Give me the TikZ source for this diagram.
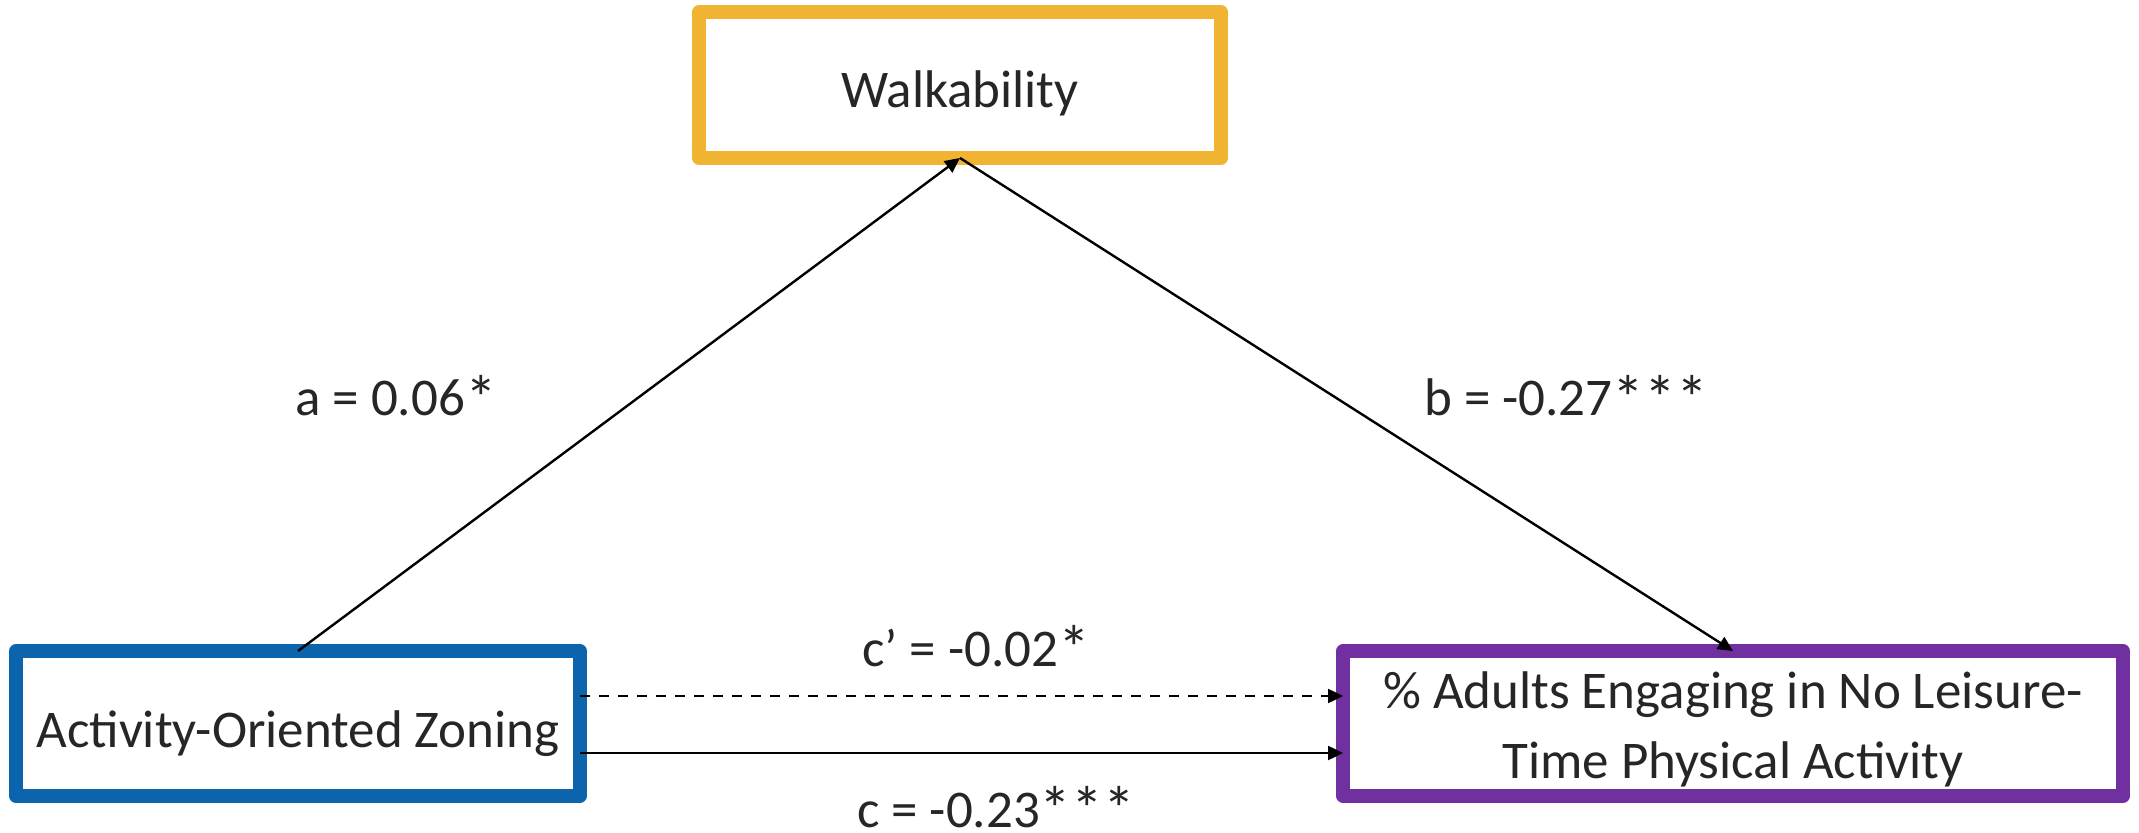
\documentclass[tikz,border=0pt]{standalone}
\usepackage{fontspec}
\usepackage{graphicx}
\setmainfont{Carlito}
\usetikzlibrary{arrows.meta}
\definecolor{walkc}{HTML}{F0B432}
\definecolor{actc}{HTML}{0B64AC}
\definecolor{outc}{HTML}{7030A0}
\definecolor{txtc}{HTML}{262626}
\newcommand{\sigst}{\raisebox{-0.08em}{\scalebox{1.2}{*}}}
\tikzset{
  boxnode/.style={draw, line width=6.75pt, line join=round, inner sep=0pt, outer sep=0pt,
    fill=white, text=txtc, minimum height=72.5pt, font=\fontsize{26.5}{35}\selectfont},
  conn/.style={line width=1.2pt, draw=black, -{Triangle[length=7.5pt,width=7pt]}},
  dashconn/.style={conn, dash pattern=on 5pt off 4.5pt},
  lbl/.style={anchor=base, inner sep=0pt, text=txtc, font=\fontsize{26.5}{35}\selectfont}
}
\begin{document}
\begin{tikzpicture}[x=0.5pt,y=-0.5pt]
\useasboundingbox (0,0) rectangle (2139,833);
\node[boxnode, draw=walkc, minimum width=261pt, minimum height=73pt] (walk) at (960,85)
  {\raisebox{-11.5pt}[0pt][0pt]{Walkability}};
\node[boxnode, draw=actc, minimum width=282pt] (act) at (298,723.5)
  {\raisebox{-11.75pt}[0pt][0pt]{Activity-Oriented Zoning}};
\node[boxnode, draw=outc, minimum width=390pt] (out) at (1733,723.5)
  {\raisebox{-27.25pt}[0pt][0pt]{\begin{tabular}[b]{@{}c@{}}\% Adults Engaging in No Leisure-\\Time Physical Activity\end{tabular}}};
\draw[conn] (act.north) -- (walk.south);
\draw[conn] (walk.south) -- (out.north);
\draw[dashconn] ([yshift=13.75pt]act.east) -- ([yshift=13.75pt]out.west);
\draw[conn] ([yshift=-14.75pt]act.east) -- ([yshift=-14.75pt]out.west);
\node[lbl] (la) at (396,416) {a = 0.06\sigst};
\node[lbl] (lb) at (1566,416) {b = -0.27\sigst\sigst\sigst};
\node[lbl] (lcp) at (976,666) {c’ = -0.02\sigst};
\node[lbl] (lc) at (996,827) {c = -0.23\sigst\sigst\sigst};
\end{tikzpicture}
\end{document}
